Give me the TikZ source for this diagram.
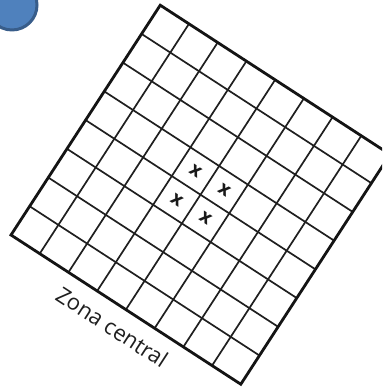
\documentclass[tikz,border=0pt]{standalone}
\usepackage{fontspec}
\setmainfont{Open Sans}
\definecolor{badgefill}{RGB}{79,129,189}
\definecolor{badgeline}{RGB}{56,93,138}
\begin{document}
\begin{tikzpicture}[x=1pt,y=1pt,
  gridline/.style={draw=black!88,line width=1.7pt},
  frameline/.style={draw=black!92,line width=2.8pt,line join=miter},
  xmark/.style={font=\fontsize{19}{19}\selectfont\bfseries,text=black!90,rotate=-33,inner sep=0pt},
  zlabel/.style={font=\fontsize{22}{22}\selectfont,text=black!88,rotate=-33,inner sep=0pt}]
\clip (0,0) rectangle (382,387);
\fill[white] (0,0) rectangle (382,387);
% blue badge
\node[circle,draw=badgeline,fill=badgefill,line width=3pt,minimum size=50pt,inner sep=0pt] (badge) at (12,382) {};
% rotated grid
\begin{scope}[shift={(11,152)},rotate=-33]
  \foreach \i in {1,...,7} {
    \draw[gridline] (\i*34.25,0) -- (\i*34.25,274);
    \draw[gridline] (0,\i*34.25) -- (274,\i*34.25);
  }
  \draw[frameline] (0,0) rectangle (274,274);
  \node[xmark] (x1) at (3.5*34.25,3.5*34.25) {x};
  \node[xmark] (x2) at (4.5*34.25,3.5*34.25) {x};
  \node[xmark] (x3) at (3.5*34.25,4.5*34.25) {x};
  \node[xmark] (x4) at (4.5*34.25,4.5*34.25) {x};
  \node[zlabel] (zona) at (135,-22) {Zona central};
\end{scope}
\end{tikzpicture}
\end{document}
